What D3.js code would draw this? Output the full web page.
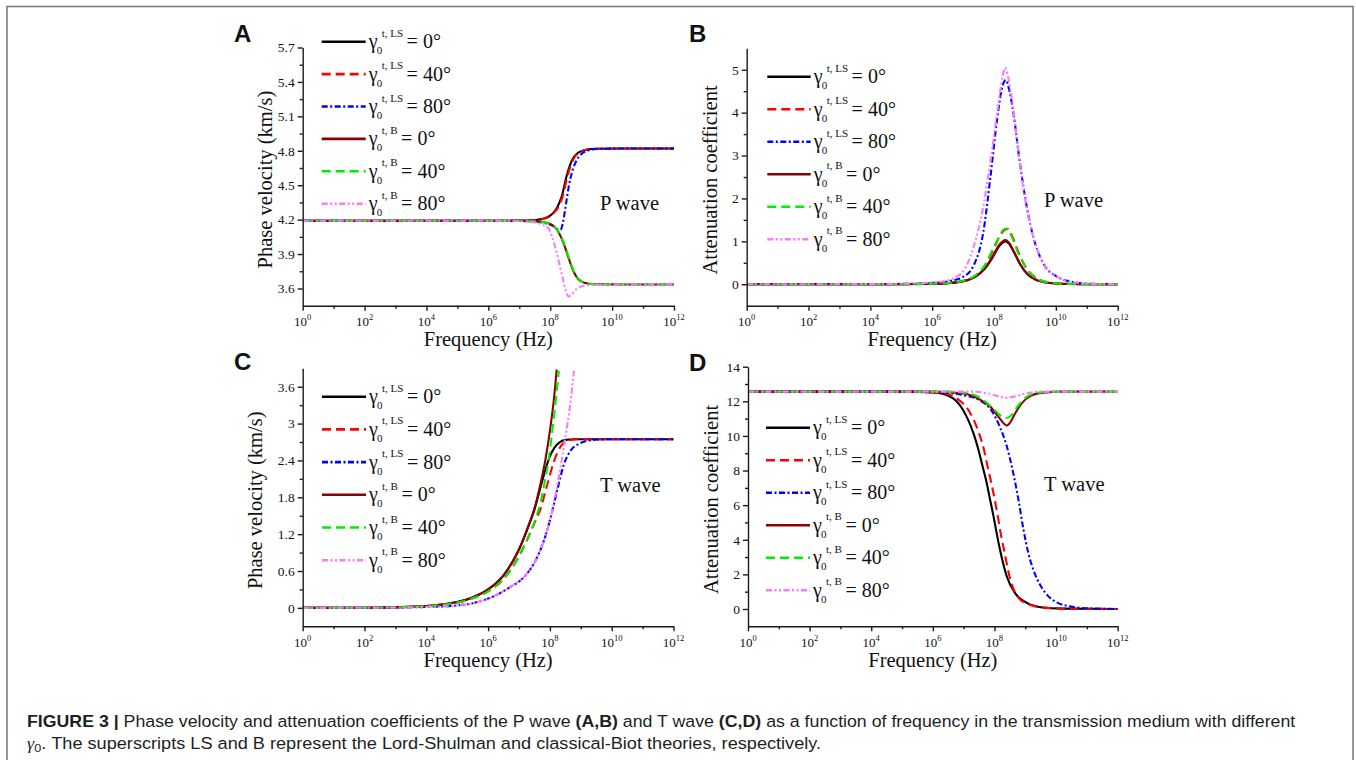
<!DOCTYPE html>
<html>
<head>
<meta charset="utf-8">
<script src="https://cdn.jsdelivr.net/npm/d3@7"></script>
<style>
  html, body { margin: 0; padding: 0; background: #fff; }
  svg { display: block; }
</style>
</head>
<body>
<svg id="fig" width="1356" height="760"></svg>
<script>
// ---- Frequency axis: decade exponents (Hz = 10^e) ----
const freqMajorExp = [0, 2, 4, 6, 8, 10, 12];
const freqMinorExp = [1, 3, 5, 7, 9, 11];

// ---- Legend labels ----
const seriesKeys   = ["LS0", "LS40", "LS80", "B0", "B40", "B80"];
const theorySup    = ["t, LS", "t, LS", "t, LS", "t, B", "t, B", "t, B"];
const angleLabels  = ["0°", "40°", "80°", "0°", "40°", "80°"];

// ---- Y tick values ----
const ticksA = [3.6, 3.9, 4.2, 4.5, 4.8, 5.1, 5.4, 5.7];
const minorA = [3.75, 4.05, 4.35, 4.65, 4.95, 5.25, 5.55];
const ticksB = [0, 1, 2, 3, 4, 5];
const minorB = [0.5, 1.5, 2.5, 3.5, 4.5];
const ticksC = [0, 0.6, 1.2, 1.8, 2.4, 3, 3.6];
const minorC = [0.3, 0.9, 1.5, 2.1, 2.7, 3.3];
const ticksD = [0, 2, 4, 6, 8, 10, 12, 14];
const minorD = [1, 3, 5, 7, 9, 11, 13];

// ---- (A) P wave phase velocity, km/s : [log10 f, value] ----
const pVelLS0  = [[0,4.19],[6,4.19],[7,4.191],[7.5,4.197],[7.8,4.21],[8.0,4.235],[8.1,4.26],[8.21,4.30],[8.37,4.40],[8.53,4.58],[8.69,4.71],[8.91,4.785],[9.18,4.81],[9.5,4.818],[10.5,4.82],[12,4.82]];
const pVelLS40 = [[0,4.19],[6,4.19],[7,4.191],[7.5,4.196],[7.8,4.207],[8.0,4.23],[8.12,4.26],[8.24,4.30],[8.4,4.40],[8.56,4.58],[8.72,4.71],[8.93,4.785],[9.2,4.81],[9.5,4.818],[10.5,4.82],[12,4.82]];
const pVelLS80 = [[0,4.19],[6,4.19],[7,4.189],[7.5,4.185],[7.8,4.172],[8.0,4.155],[8.15,4.135],[8.26,4.112],[8.33,4.11],[8.4,4.16],[8.5,4.32],[8.6,4.49],[8.7,4.61],[8.85,4.715],[9.0,4.77],[9.2,4.80],[9.5,4.815],[10.5,4.82],[12,4.82]];
const pVelB0   = [[0,4.19],[6,4.19],[7,4.189],[7.5,4.186],[7.8,4.178],[8.0,4.162],[8.15,4.135],[8.3,4.075],[8.45,3.98],[8.6,3.86],[8.75,3.75],[8.9,3.683],[9.1,3.65],[9.4,3.638],[10.5,3.635],[12,3.635]];
const pVelB40  = [[0,4.19],[6,4.19],[7,4.189],[7.5,4.186],[7.8,4.176],[8.02,4.16],[8.17,4.13],[8.32,4.07],[8.47,3.975],[8.62,3.855],[8.77,3.745],[8.92,3.68],[9.12,3.648],[9.4,3.638],[10.5,3.635],[12,3.635]];
const pVelB80  = [[0,4.19],[6,4.19],[7,4.187],[7.4,4.18],[7.7,4.16],[7.94,4.125],[8.15,3.97],[8.37,3.73],[8.5,3.585],[8.59,3.53],[8.7,3.55],[8.85,3.595],[9.05,3.622],[9.4,3.633],[10.5,3.635],[12,3.635]];

// ---- (B) P wave attenuation coefficient ----
const pAttLS0  = [[0,0],[5,0.002],[6,0.01],[6.5,0.025],[7,0.07],[7.4,0.18],[7.7,0.36],[7.95,0.62],[8.15,0.87],[8.28,0.97],[8.37,1.0],[8.48,0.95],[8.65,0.74],[8.85,0.46],[9.1,0.22],[9.4,0.09],[9.8,0.03],[10.5,0.005],[12,0]];
const pAttLS40 = [[0,0],[5,0.002],[6,0.012],[6.5,0.03],[7,0.08],[7.4,0.2],[7.7,0.42],[7.95,0.76],[8.15,1.07],[8.33,1.26],[8.45,1.29],[8.6,1.1],[8.8,0.73],[9.0,0.43],[9.3,0.18],[9.7,0.05],[10.3,0.01],[12,0]];
const pAttLS80 = [[0,0],[4,0.002],[5,0.008],[6,0.03],[6.6,0.08],[7,0.17],[7.35,0.45],[7.65,1.2],[7.9,2.6],[8.1,3.85],[8.25,4.55],[8.38,4.76],[8.5,4.5],[8.63,3.98],[8.84,2.81],[9.06,1.8],[9.27,1.1],[9.59,0.49],[10.03,0.18],[10.5,0.06],[11,0.015],[12,0]];
const pAttB0   = [[0,0],[5,0.002],[6,0.01],[6.5,0.025],[7,0.07],[7.4,0.18],[7.7,0.37],[7.95,0.64],[8.15,0.9],[8.28,1.0],[8.36,1.03],[8.47,0.98],[8.65,0.75],[8.85,0.46],[9.1,0.22],[9.4,0.09],[9.8,0.03],[10.5,0.005],[12,0]];
const pAttB40  = [[0,0],[5,0.002],[6,0.012],[6.5,0.03],[7,0.08],[7.4,0.21],[7.7,0.44],[7.95,0.8],[8.14,1.07],[8.3,1.27],[8.4,1.3],[8.55,1.15],[8.75,0.78],[9.0,0.42],[9.3,0.17],[9.7,0.05],[10.3,0.01],[12,0]];
const pAttB80  = [[0,0],[4,0.003],[5,0.012],[6,0.045],[6.5,0.09],[6.8,0.18],[7.0,0.3],[7.33,0.85],[7.65,1.8],[7.92,3.05],[8.14,4.2],[8.28,4.85],[8.36,5.05],[8.45,4.85],[8.58,4.3],[8.73,3.43],[8.94,2.27],[9.27,1.1],[9.59,0.49],[10.03,0.18],[10.5,0.06],[11,0.015],[12,0]];

// ---- (C) T wave phase velocity, km/s ----
const tVelLS0  = [[0,0],[2,0.003],[3,0.01],[4,0.03],[4.5,0.055],[5,0.095],[5.5,0.17],[6,0.3],[6.5,0.53],[7.0,0.95],[7.3,1.32],[7.5,1.6],[7.7,1.97],[7.85,2.24],[8.0,2.47],[8.15,2.61],[8.3,2.69],[8.5,2.735],[8.8,2.745],[10,2.745],[12,2.745]];
const tVelLS40 = [[0,0],[2,0.003],[3,0.009],[4,0.028],[4.5,0.05],[5,0.085],[5.5,0.155],[6,0.27],[6.5,0.47],[7.0,0.84],[7.3,1.15],[7.5,1.38],[7.7,1.62],[7.91,2.0],[8.13,2.38],[8.35,2.63],[8.56,2.72],[8.89,2.745],[10,2.745],[12,2.745]];
const tVelLS80 = [[0,0],[2,0.002],[3,0.005],[4,0.015],[5,0.04],[5.54,0.08],[6.18,0.19],[6.72,0.34],[7.16,0.5],[7.48,0.72],[7.81,1.1],[8.05,1.52],[8.24,1.92],[8.45,2.33],[8.67,2.56],[8.94,2.67],[9.21,2.72],[9.54,2.74],[10,2.745],[12,2.745]];
const tVelB0   = [[0,0],[2,0.003],[3,0.01],[4,0.03],[4.5,0.055],[5,0.095],[5.5,0.17],[6,0.3],[6.5,0.53],[7.0,0.95],[7.3,1.33],[7.5,1.62],[7.7,2.03],[7.85,2.4],[8.0,2.88],[8.13,3.4],[8.22,3.88]];
const tVelB40  = [[0,0],[2,0.003],[3,0.009],[4,0.028],[4.5,0.05],[5,0.085],[5.5,0.155],[6,0.27],[6.5,0.47],[7.0,0.84],[7.3,1.15],[7.5,1.4],[7.7,1.72],[7.85,2.1],[7.97,2.45],[8.13,3.11],[8.29,3.86]];
const tVelB80  = [[0,0],[2,0.002],[3,0.005],[4,0.015],[5,0.04],[5.54,0.08],[6.18,0.19],[6.72,0.34],[7.16,0.5],[7.48,0.72],[7.81,1.1],[8.08,1.59],[8.29,2.13],[8.45,2.62],[8.62,3.17],[8.78,3.86]];

// ---- (D) T wave attenuation coefficient ----
const tAttLS0  = [[0,12.56],[5,12.56],[6.1,12.5],[6.67,12.15],[7.1,11.1],[7.32,10.15],[7.48,9.2],[7.62,8.2],[7.75,7.27],[7.86,6.3],[7.97,5.35],[8.08,4.3],[8.18,3.42],[8.4,1.88],[8.67,0.92],[9.05,0.35],[9.5,0.1],[10.2,0.02],[12,0]];
const tAttLS40 = [[0,12.56],[5,12.56],[6.2,12.5],[6.83,12.1],[7.28,11.1],[7.5,10.15],[7.66,9.2],[7.78,8.2],[7.9,7.27],[8.01,6.3],[8.11,5.35],[8.21,4.3],[8.31,3.42],[8.5,1.8],[8.83,0.55],[9.2,0.22],[9.6,0.08],[10.3,0.02],[12,0]];
const tAttLS80 = [[0,12.56],[5,12.56],[6,12.55],[6.45,12.5],[7.0,12.35],[7.53,12.05],[7.91,11.45],[8.18,10.5],[8.4,9.4],[8.61,7.85],[8.78,6.3],[8.94,4.6],[9.1,3.23],[9.26,2.27],[9.48,1.4],[9.7,0.83],[10.02,0.38],[10.45,0.15],[11,0.04],[12,0]];
const tAttB0   = [[0,12.56],[6,12.56],[7.0,12.45],[7.53,12.1],[7.86,11.7],[8.13,11.1],[8.29,10.75],[8.4,10.6],[8.5,10.75],[8.67,11.3],[8.89,11.9],[9.16,12.3],[9.59,12.5],[10.2,12.56],[12,12.56]];
const tAttB40  = [[0,12.56],[6.5,12.56],[7.0,12.5],[7.53,12.2],[7.95,11.6],[8.18,11.2],[8.35,11.02],[8.55,11.2],[8.75,11.7],[9.0,12.2],[9.43,12.5],[10,12.56],[12,12.56]];
const tAttB80  = [[0,12.56],[7.3,12.56],[7.8,12.45],[8.1,12.3],[8.4,12.2],[8.7,12.3],[9.0,12.45],[9.5,12.56],[12,12.56]];

// ---- line styles per series ----
const styles = {
  LS0:  { color: "#000000", dash: null },
  LS40: { color: "#ff0000", dash: "9,5" },
  LS80: { color: "#0000ff", dash: "6,2.5,2,2.5" },
  B0:   { color: "#8b0000", dash: null },
  B40:  { color: "#00ee00", dash: "9,5" },
  B80:  { color: "#ff77ff", dash: "6,2.5,2,2.5,2,2.5" }
};

const SERIF = "'Liberation Serif', 'Times New Roman', serif";
const SANS  = "'Liberation Sans', Arial, Helvetica, sans-serif";

const panels = [
  { id: "A", letter: [234, 42], x0: 302.7, x1: 674, yTop: 47.5, yBot: 305.7, yDomain: [3.45, 5.7],
    ticks: ticksA, minor: minorA, fmt: d3.format(".1f"),
    yTitle: "Phase velocity (km/s)", yTitleX: 272, xTitleY: 346,
    wave: "P wave", waveXY: [600, 209.5],
    legend: { x0: 321.7, x1: 365.7, y0: 41.7, dy: 32.4 },
    data: [pVelLS0, pVelLS40, pVelLS80, pVelB0, pVelB40, pVelB80] },
  { id: "B", letter: [689, 42], x0: 746.7, x1: 1117.7, yTop: 48.3, yBot: 305.7, yDomain: [-0.5, 5.5],
    ticks: ticksB, minor: minorB, fmt: d3.format("d"),
    yTitle: "Attenuation coefficient", yTitleX: 717, xTitleY: 346,
    wave: "P wave", waveXY: [1044, 207],
    legend: { x0: 767.3, x1: 810.7, y0: 76.7, dy: 32.5 },
    data: [pAttLS0, pAttLS40, pAttLS80, pAttB0, pAttB40, pAttB80] },
  { id: "C", letter: [234, 370], x0: 302.7, x1: 673.5, yTop: 368.3, yBot: 626.3, yDomain: [-0.3, 3.9],
    ticks: ticksC, minor: minorC, fmt: d => String(+d.toFixed(1)),
    yTitle: "Phase velocity (km/s)", yTitleX: 262, xTitleY: 666.5,
    wave: "T wave", waveXY: [600, 491.5],
    legend: { x0: 322, x1: 366, y0: 396.7, dy: 32.7 },
    data: [tVelLS0, tVelLS40, tVelLS80, tVelB0, tVelB40, tVelB80] },
  { id: "D", letter: [689, 371], x0: 748, x1: 1117.7, yTop: 366.7, yBot: 626.3, yDomain: [-1, 14],
    ticks: ticksD, minor: minorD, fmt: d3.format("d"),
    yTitle: "Attenuation coefficient", yTitleX: 718, xTitleY: 666.5,
    wave: "T wave", waveXY: [1044, 490.5],
    legend: { x0: 766, x1: 810, y0: 427.7, dy: 32.5 },
    data: [tAttLS0, tAttLS40, tAttLS80, tAttB0, tAttB40, tAttB80] }
];

const svg = d3.select("#fig");
svg.append("rect").attr("width", 1356).attr("height", 760).attr("fill", "#fff");

// outer frame
svg.append("rect")
  .attr("x", 7).attr("y", 6.5).attr("width", 1346).attr("height", 800)
  .attr("fill", "none").attr("stroke", "#7d7d7d").attr("stroke-width", 1.6);

const defs = svg.append("defs");

panels.forEach(p => {
  const x = d3.scaleLog().domain([1, 1e12]).range([p.x0, p.x1]);
  const y = d3.scaleLinear().domain(p.yDomain).range([p.yBot, p.yTop]);
  const g = svg.append("g").attr("class", "panel-" + p.id);

  // clip region for the curves
  defs.append("clipPath").attr("id", "clip-" + p.id)
    .append("rect").attr("x", p.x0).attr("y", p.yTop)
    .attr("width", p.x1 - p.x0).attr("height", p.yBot - p.yTop);

  // curves (B-theory series drawn last, on top)
  const line = d3.line()
    .x(d => x(Math.pow(10, d[0])))
    .y(d => y(d[1]))
    .curve(d3.curveMonotoneX);
  const curves = g.append("g").attr("clip-path", `url(#clip-${p.id})`);
  p.data.forEach((series, i) => {
    const st = styles[seriesKeys[i]];
    curves.append("path")
      .datum(series)
      .attr("d", line)
      .attr("fill", "none")
      .attr("stroke", st.color)
      .attr("stroke-width", 2.1)
      .attr("stroke-dasharray", st.dash)
      .attr("stroke-linejoin", "round");
  });

  // x axis
  const gx = g.append("g").attr("transform", `translate(0,${p.yBot})`)
    .call(d3.axisBottom(x).tickValues(freqMajorExp.map(e => Math.pow(10, e)))
      .tickSize(5).tickSizeOuter(0).tickFormat(() => ""));
  gx.append("g")
    .call(d3.axisBottom(x).tickValues(freqMinorExp.map(e => Math.pow(10, e)))
      .tickSize(3).tickSizeOuter(0).tickFormat(() => ""))
    .select(".domain").remove();
  gx.selectAll("path, line").attr("stroke", "#1a1a1a").attr("stroke-width", 1.4);

  // x tick labels 10^n
  freqMajorExp.forEach(e => {
    const t = g.append("text")
      .attr("x", x(Math.pow(10, e))).attr("y", p.yBot + 20.5)
      .attr("text-anchor", "middle")
      .attr("font-family", SERIF).attr("font-size", 13).attr("fill", "#111");
    t.append("tspan").text("10");
    t.append("tspan").attr("font-size", 8.5).attr("dy", -6).text(e);
  });

  // y axis
  const gy = g.append("g").attr("transform", `translate(${p.x0},0)`)
    .call(d3.axisLeft(y).tickValues(p.ticks).tickSize(5).tickSizeOuter(0)
      .tickPadding(3).tickFormat(p.fmt));
  gy.append("g")
    .call(d3.axisLeft(y).tickValues(p.minor).tickSize(3).tickSizeOuter(0).tickFormat(() => ""))
    .select(".domain").remove();
  gy.selectAll("path, line").attr("stroke", "#1a1a1a").attr("stroke-width", 1.4);
  gy.attr("font-family", SERIF).attr("font-size", 13.5);
  gy.selectAll("text").attr("fill", "#111");

  // axis titles
  g.append("text")
    .attr("transform", `translate(${p.yTitleX},${(p.yTop + p.yBot) / 2 + 3}) rotate(-90)`)
    .attr("text-anchor", "middle")
    .attr("font-family", SERIF).attr("font-size", 20.5).attr("fill", "#111")
    .text(p.yTitle);
  g.append("text")
    .attr("x", (p.x0 + p.x1) / 2).attr("y", p.xTitleY)
    .attr("text-anchor", "middle")
    .attr("font-family", SERIF).attr("font-size", 20.5).attr("fill", "#111")
    .text("Frequency (Hz)");

  // wave label
  g.append("text")
    .attr("x", p.waveXY[0]).attr("y", p.waveXY[1])
    .attr("font-family", SERIF).attr("font-size", 20.5).attr("fill", "#111")
    .text(p.wave);

  // panel letter
  g.append("text")
    .attr("x", p.letter[0]).attr("y", p.letter[1])
    .attr("font-family", SANS).attr("font-weight", "bold").attr("font-size", 24)
    .attr("fill", "#111")
    .text(p.id);

  // legend
  const L = p.legend;
  seriesKeys.forEach((k, i) => {
    const st = styles[k];
    const ry = L.y0 + i * L.dy;
    g.append("line")
      .attr("x1", L.x0).attr("x2", L.x1).attr("y1", ry).attr("y2", ry)
      .attr("stroke", st.color).attr("stroke-width", 2.6)
      .attr("stroke-dasharray", st.dash);
    const lg = g.append("g").attr("transform", `translate(${L.x1 + 3},${ry})`)
      .attr("font-family", SERIF).attr("fill", "#111");
    lg.append("text").attr("x", 0).attr("y", 6.5).attr("font-size", 20).text("γ");
    lg.append("text").attr("x", 8).attr("y", 12.5).attr("font-size", 11).text("0");
    const sup = lg.append("text").attr("x", 13).attr("y", -5).attr("font-size", 11).text(theorySup[i]);
    const w = sup.node().getComputedTextLength();
    lg.append("text").attr("x", 13 + w + 3.5).attr("y", 6.5).attr("font-size", 20)
      .text("= " + angleLabels[i]);
  });
});

// caption
function fitLine(textSel, x, targetWidth) {
  const w = textSel.node().getComputedTextLength();
  const s = targetWidth / w;
  textSel.attr("transform", `translate(${x},0) scale(${s},1) translate(${-x},0)`);
}

const cap1 = svg.append("text").attr("x", 27).attr("y", 727.5)
  .attr("font-family", SANS).attr("font-size", 16.5).attr("fill", "#1e1e1e");
cap1.append("tspan").attr("font-weight", "bold").text("FIGURE 3 | ");
cap1.append("tspan").text("Phase velocity and attenuation coefficients of the P wave ");
cap1.append("tspan").attr("font-weight", "bold").text("(A,B)");
cap1.append("tspan").text(" and T wave ");
cap1.append("tspan").attr("font-weight", "bold").text("(C,D)");
cap1.append("tspan").text(" as a function of frequency in the transmission medium with different");
fitLine(cap1, 27, 1269);

const cap2 = svg.append("text").attr("x", 27).attr("y", 749.5)
  .attr("font-family", SANS).attr("font-size", 16.5).attr("fill", "#1e1e1e");
cap2.append("tspan").attr("font-family", SERIF).attr("font-style", "italic").text("γ");
cap2.append("tspan").attr("font-size", 11.5).attr("dy", 3).text("0");
cap2.append("tspan").attr("dy", -3).text(". The superscripts LS and B represent the Lord-Shulman and classical-Biot theories, respectively.");
fitLine(cap2, 27, 795);
</script>
</body>
</html>
